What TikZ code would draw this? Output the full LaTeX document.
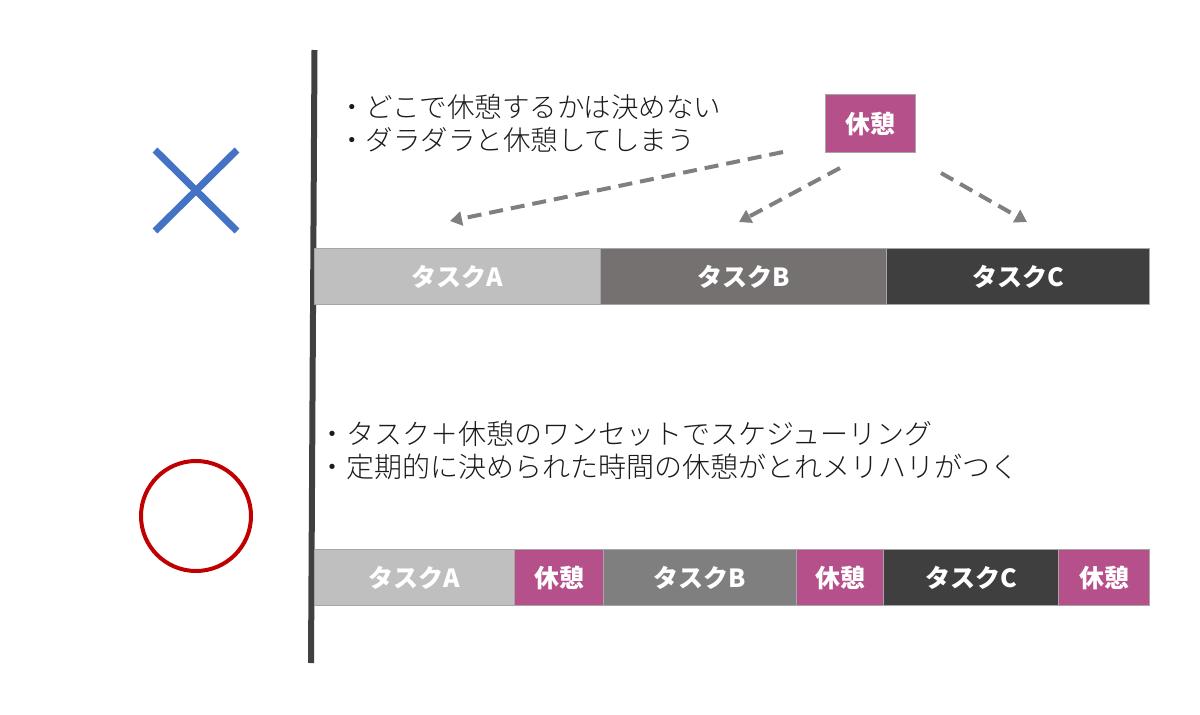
\documentclass[tikz,border=0pt]{standalone}
\usepackage{fontspec}
\setmainfont{Noto Sans CJK JP}
\newfontfamily\jplight{Noto Sans CJK JP Light}
\usetikzlibrary{arrows.meta}
\definecolor{restc}{HTML}{B5508A}
\definecolor{gA}{HTML}{BFBFBF}
\definecolor{gBtop}{HTML}{767171}
\definecolor{gBbot}{HTML}{7F7F7F}
\definecolor{gC}{HTML}{3F3F3F}
\definecolor{segborder}{HTML}{A6A6A6}
\definecolor{axisc}{HTML}{404040}
\definecolor{arrc}{HTML}{7F7F7F}
\definecolor{xblue}{HTML}{4472C4}
\definecolor{ored}{HTML}{C00000}
\definecolor{txtc}{HTML}{1A1A1A}
\begin{document}
\begin{tikzpicture}[x=1pt,y=-1pt,
  seg/.style={draw=segborder, line width=1pt, minimum height=56pt, inner sep=0pt,
    anchor=north west, text=white, font=\bfseries\fontsize{25}{25}\selectfont},
  restbox/.style={seg, fill=restc},
  txt/.style={anchor=west, inner sep=0pt, text=txtc},
  toptxt/.style={txt, font=\jplight\fontsize{27.5}{33}\selectfont},
  bottxt/.style={txt, font=\jplight\fontsize{28}{33}\selectfont},
  arr/.style={draw=arrc, line width=4pt, dash pattern=on 14pt off 8pt,
    -{Triangle[length=12pt,width=14pt]}}]
\useasboundingbox (0,0) rectangle (1200,715);
% axis
\coordinate (axtop) at (314.5,50);
\coordinate (axbot) at (311,663);
\draw[line width=6pt, axisc] (axtop) -- (axbot);
% X mark
\coordinate (x1) at (155,150);
\coordinate (x2) at (237,231);
\coordinate (x3) at (237,150);
\coordinate (x4) at (155,231);
\draw[line width=7pt, xblue] (x1) -- (x2) (x3) -- (x4);
% circle
\coordinate (oc) at (196,516);
\draw[line width=4pt, ored] (oc) circle (55pt);
% top texts
\node[toptxt] (t1) at (338,107) {・どこで休憩するかは決めない};
\node[toptxt] (t2) at (338,140) {・ダラダラと休憩してしまう};
% rest box top
\node[restbox, minimum width=90pt, minimum height=58pt] (rtop) at (825,94) {休憩};
% top bar
\node[seg, fill=gA, minimum width=286pt] (tA) at (314,248) {タスクA};
\node[seg, fill=gBtop, minimum width=286pt] (tB) at (600,248) {タスクB};
\node[seg, fill=gC, minimum width=263pt] (tC) at (886,248) {タスクC};
% arrows
\coordinate (a1s) at (783,152);
\coordinate (a1e) at (450,221);
\coordinate (a2s) at (840,168);
\coordinate (a2e) at (739,222);
\coordinate (a3s) at (941,173);
\coordinate (a3e) at (1027,222);
\draw[arr] (a1s) -- (a1e);
\draw[arr] (a2s) -- (a2e);
\draw[arr] (a3s) -- (a3e);
% bottom texts
\node[bottxt] (b1) at (318,434) {・タスク＋休憩のワンセットでスケジューリング};
\node[bottxt] (b2) at (318,467) {・定期的に決められた時間の休憩がとれメリハリがつく};
% bottom bar
\node[seg, fill=gA, minimum width=200pt] (bA) at (314,549) {タスクA};
\node[restbox, minimum width=89pt] (bR1) at (514,549) {休憩};
\node[seg, fill=gBbot, minimum width=193pt] (bB) at (603,549) {タスクB};
\node[restbox, minimum width=87pt] (bR2) at (796,549) {休憩};
\node[seg, fill=gC, minimum width=175pt] (bC) at (883,549) {タスクC};
\node[restbox, minimum width=91pt] (bR3) at (1058,549) {休憩};
\end{tikzpicture}
\end{document}
